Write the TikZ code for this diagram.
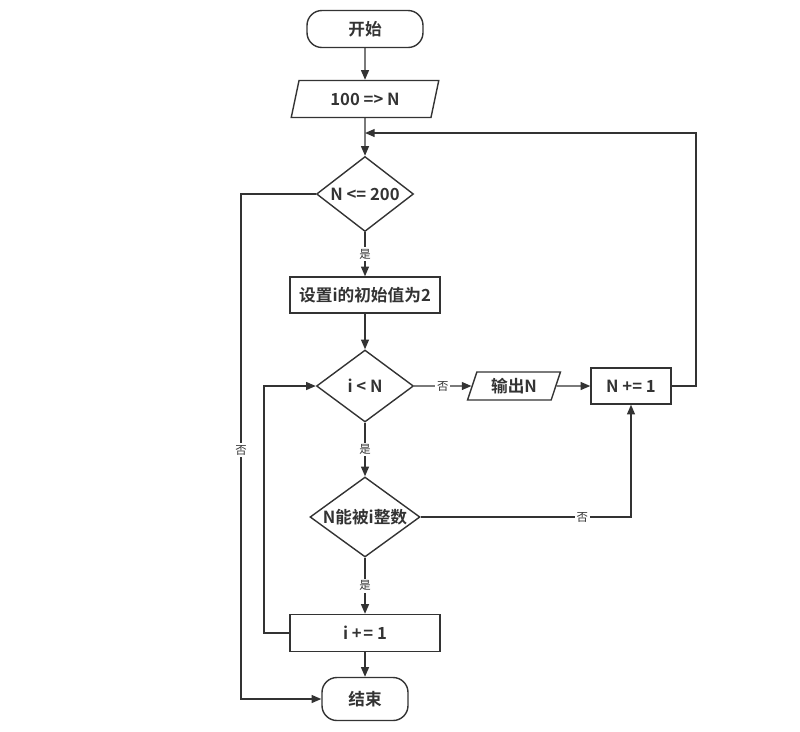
\documentclass[tikz,border=0pt]{standalone}
\usepackage{fontspec}
\setmainfont{Noto Sans CJK SC}[BoldFont={* Bold}]
\usetikzlibrary{shapes.geometric,arrows.meta}
\newdimen\pxu \pxu=0.02cm
\definecolor{lc}{HTML}{333333}
\tikzset{
  base/.style={draw=lc, line width=0.8pt, text=lc, font=\fontsize{9.5}{11}\selectfont\bfseries, inner sep=0pt},
  term/.style={base, rectangle, rounded corners=8.5pt},
  proc/.style={base, rectangle},
  io/.style={base, trapezium, trapezium stretches=true, trapezium left angle=72, trapezium right angle=108},
  dec/.style={base, diamond},
  conn/.style={draw=lc, line width=0.8pt},
  arr/.style={conn, -{Triangle[length=5.5pt,width=4.5pt]}},
  lbl/.style={fill=white, text=lc, font=\fontsize{6.5}{8}\selectfont, inner sep=1pt}
}
\begin{document}
\begin{tikzpicture}[x=0.02cm,y=-0.02cm]
\useasboundingbox (0,0) rectangle (800,731);
\node[term, minimum width=116\pxu, minimum height=37\pxu] (start) at (365,29) {开始};
\node[io, minimum width=148\pxu, minimum height=37\pxu] (inp) at (365,99) {100 => N};
\node[dec, aspect=1.29, minimum width=97\pxu, minimum height=75\pxu] (d1) at (365,194) {N <= 200};
\node[proc, minimum width=150\pxu, minimum height=36\pxu] (init) at (365,295) {设置i的初始值为2};
\node[dec, aspect=1.35, minimum width=97\pxu, minimum height=72\pxu] (d2) at (365,386) {i < N};
\node[io, trapezium left angle=70, trapezium right angle=110, minimum width=93\pxu, minimum height=28\pxu] (out) at (514,386) {输出N};
\node[proc, minimum width=80\pxu, minimum height=36\pxu] (ninc) at (631,386) {N += 1};
\node[dec, aspect=1.375, minimum width=110\pxu, minimum height=80\pxu] (d3) at (365,517) {N能被i整数};
\node[proc, minimum width=150\pxu, minimum height=37\pxu] (iinc) at (365,633) {i +\kern1pt= 1};
\node[term, minimum width=86\pxu, minimum height=43\pxu] (end) at (365,699) {结束};

\coordinate (rt) at (696,133);
\coordinate (mj) at (365,133);
\coordinate (l1) at (241,194);
\coordinate (l2) at (241,699);
\coordinate (b1) at (264,633);

\draw[arr] (start.south) -- (inp.north);
\draw[arr] (inp.south) -- (d1.north);
\draw[arr] (ninc.east) -| (rt) -- (mj);
\draw[arr] (d1.south) -- node[lbl] (y1) {是} (init.north);
\draw[arr] (d1.west) -- (l1) -- node[lbl, pos=0.507] (n1) {否} (l2) -- (end.west);
\draw[arr] (init.south) -- (d2.north);
\draw[arr] (d2.east) -- node[lbl] (n2) {否} (out.west);
\draw[arr] (out.east) -- (ninc.west);
\draw[arr] (d2.south) -- node[lbl] (y2) {是} (d3.north);
\draw[arr] (d3.east) -| node[lbl, pos=0.384] (n3) {否} (ninc.south);
\draw[arr] (d3.south) -- node[lbl] (y3) {是} (iinc.north);
\draw[arr] (iinc.west) -- (b1) |- (d2.west);
\draw[arr] (iinc.south) -- (end.north);
\end{tikzpicture}
\end{document}
